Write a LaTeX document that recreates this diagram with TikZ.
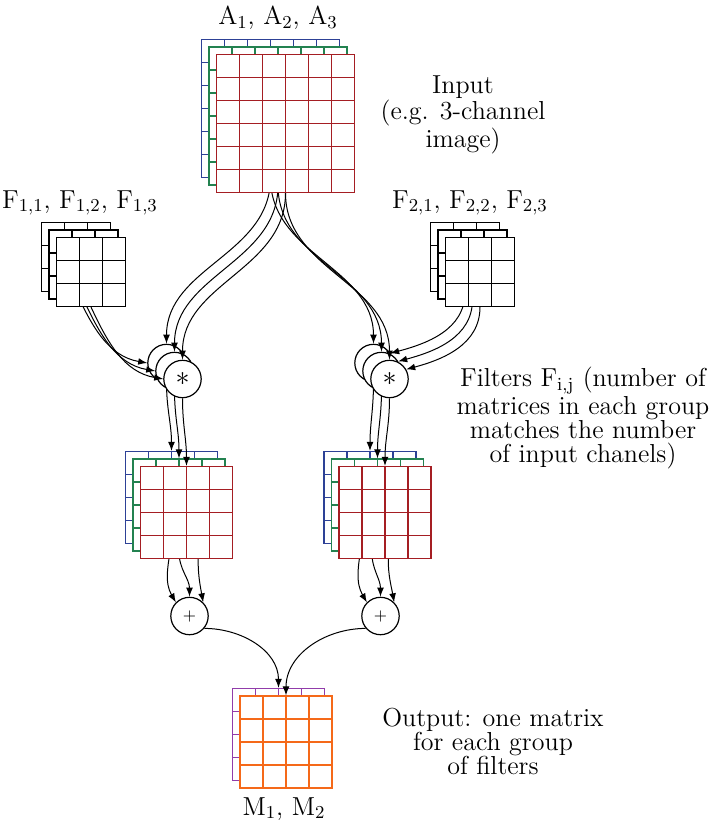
\RequirePackage{fix-cm}
\documentclass[tikz,border=0pt]{standalone}
\usepackage{amsmath}
\usepackage{xcolor}
\usepackage{tikz}
\usetikzlibrary{arrows.meta,calc}
\definecolor{chanblue}{RGB}{45,65,150}
\definecolor{changreen}{RGB}{35,130,80}
\definecolor{chanred}{RGB}{165,30,35}
\definecolor{outpurple}{RGB}{145,60,170}
\definecolor{outorange}{RGB}{245,105,25}

\begin{document}
\begin{tikzpicture}[x=0.5pt, y=-0.5pt, >={Latex[length=4.5pt,width=3.4pt]},
    font=\fontsize{13}{12}\selectfont,
    layer/.style n args={2}{draw=#1, fill=white, line width=0.55pt, inner sep=0pt, minimum size=#2*11.5pt,
        path picture={\foreach \k in {1,...,#2}{
            \draw[#1, line width=0.55pt] ([xshift=\k*11.5pt]path picture bounding box.north west) -- ([xshift=\k*11.5pt]path picture bounding box.south west);
            \draw[#1, line width=0.55pt] ([yshift=-\k*11.5pt]path picture bounding box.north west) -- ([yshift=-\k*11.5pt]path picture bounding box.north east);}}},
    op/.style={circle, draw, fill=white, line width=0.6pt, minimum size=18.7pt, inner sep=0pt},
    link/.style={->, line width=0.5pt}]
    \useasboundingbox (0,0) rectangle (718,830);

    % sums
    \node[op] (sumL) at (189.5,616) {\fontsize{8}{8}\selectfont$+$};
    \node[op] (sumR) at (380.5,616) {\fontsize{8}{8}\selectfont$+$};

    \foreach \i/\col/\angL/\angR/\sa/\so/\si in {1/chanblue/-90/-100/135/-100/120,2/changreen/-90/-97/90/-90/90,3/chanred/-76/-86/45/-90/100}{
        \pgfmathsetmacro{\off}{7.5*(\i-1)}
        \pgfmathsetmacro{\offc}{8*(\i-1)}
        % input channels and filters
        \node[layer={\col}{6}] (inA\i) at (270.5+\off,108.5+\off) {};
        \node[layer={black}{3}] (fltL\i) at (76+\off,257+\off) {};
        \node[layer={black}{3}] (fltR\i) at (465+\off,257+\off) {};
        % convolutions (only the front one shows its sign)
        \node[op] (convL\i) at (166.5+\offc,363+\offc) {\ifnum\i=3 \fontsize{14}{14}\selectfont$\ast$\fi};
        \node[op] (convR\i) at (373.5+\offc,363+\offc) {\ifnum\i=3 \fontsize{14}{14}\selectfont$\ast$\fi};
        % feature maps
        \node[layer={\col}{4}] (mapL\i) at (171.5+\off,497.5+\off) {};
        \node[layer={\col}{4}] (mapR\i) at (370+\off,497.5+\off) {};
        % links
        \draw[link] (inA\i.south) to[out=-90,in=90] (convL\i.north);
        \draw[link] (inA\i.south) to[out=-90,in=90] (convR\i.north);
        \draw[link] (fltL\i.south) to[out=-65,in=170] (convL\i.west);
        \draw[link] (fltR\i.south) to[out=-90,in=15] (convR\i.30);
        \draw[link] (convL\i.south) to[out=-90,in=90] (mapL\i.north);
        \draw[link] (convR\i.south) to[out=-90,in=90] (mapR\i.north);
        \draw[link] (mapL\i.\angL) to[out=\so,in=\si] (sumL.\sa);
        \draw[link] (mapR\i.\angR) to[out=\so,in=\si] (sumR.\sa);
    }

    % output
    \node[layer={outpurple}{4}] (outM1) at (278.5,734.5) {};
    \draw[link] (sumL.-40) to[out=0,in=90] (outM1.north);
    \node[layer={outorange}{4}] (outM2) at (286,742) {};
    \draw[link] (sumR.-140) to[out=180,in=90] (outM2.north);

    % labels
    \node[anchor=base] (labA) at (278,25) {$\mathrm{A}_1$, $\mathrm{A}_2$, $\mathrm{A}_3$};
    \node[anchor=base] (labFL) at (80,208) {$\mathrm{F}_{1,1}$, $\mathrm{F}_{1,2}$, $\mathrm{F}_{1,3}$};
    \node[anchor=base] (labFR) at (470,208) {$\mathrm{F}_{2,1}$, $\mathrm{F}_{2,2}$, $\mathrm{F}_{2,3}$};
    \node[anchor=base] (labM) at (284,815) {$\mathrm{M}_1$, $\mathrm{M}_2$};
    \node[align=center] (txtIn) at (463,115) {Input\\(e.g. 3-channel\\image)};
    \node[align=center] (txtFlt) at (583,418) {Filters $\mathrm{F}_{\mathrm{i,j}}$ (number of\\matrices in each group\\matches the number\\of input chanels)};
    \node[align=center] (txtOut) at (493,741) {Output: one matrix\\for each group\\of filters};
\end{tikzpicture}
\end{document}
